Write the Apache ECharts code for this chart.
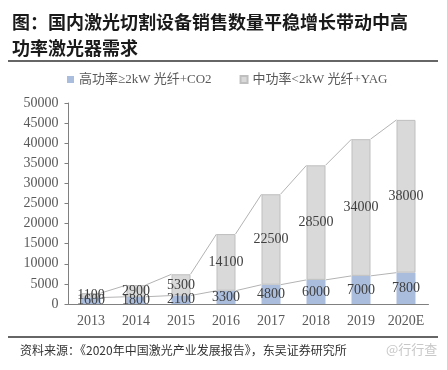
<!DOCTYPE html>
<html><head><meta charset="utf-8">
<script src="https://cdn.jsdelivr.net/npm/echarts@6/dist/echarts.min.js"></script>
<style>html,body{margin:0;padding:0;background:#fff}#c{width:447px;height:370px}</style>
</head><body><div id="c"></div>
<script>
const categories = ['2013','2014','2015','2016','2017','2018','2019','2020E'];
const highPower = [1600,1800,2100,3300,4800,6000,7000,7800];
const midPower = [1100,2900,5300,14100,22500,28500,34000,38000];
const seriesNames = ['高功率≥2kW 光纤+CO2','中功率<2kW 光纤+YAG'];
const yTicks = {min:0, max:50000, interval:5000};

const totals = highPower.map((v,i)=>v+midPower[i]);
const BAR_W = 19;
const chart = echarts.init(document.getElementById('c'));
const numFont = '"Liberation Serif", "Times New Roman", serif';
chart.setOption({
  animation:false,
  title:{text:'图：国内激光切割设备销售数量平稳增长带动中高\n功率激光器需求', left:7, top:4,
    textStyle:{fontFamily:'"Noto Sans CJK SC"', fontSize:18, fontWeight:'bold', color:'#1a1a1a', lineHeight:26}},
  legend:{top:68, left:62, itemWidth:7, itemHeight:7, itemGap:28,
    textStyle:{fontFamily:'"Liberation Serif","Noto Sans CJK SC"', fontSize:13, color:'#595959'},
    data:[{name:seriesNames[0], icon:'rect'},{name:seriesNames[1], icon:'rect'}]},
  grid:{left:68.5, right:18.5, top:103, bottom:66},
  xAxis:{type:'category', data:categories,
    axisLine:{lineStyle:{color:'#808080'}},
    axisTick:{inside:true, length:3, lineStyle:{color:'#808080'}},
    axisLabel:{interval:0, fontFamily:numFont, fontSize:14, color:'#595959', margin:10}},
  yAxis:{type:'value', min:yTicks.min, max:yTicks.max, interval:yTicks.interval,
    splitLine:{show:false},
    axisLine:{show:true, lineStyle:{color:'#808080'}},
    axisTick:{show:true, length:4, lineStyle:{color:'#808080'}},
    axisLabel:{formatter:v=>String(v), fontFamily:numFont, fontSize:14, color:'#595959', margin:10}},
  series:[
    {name:seriesNames[0], type:'bar', stack:'a', barWidth:BAR_W, data:highPower,
      itemStyle:{color:'#aabddd'},
      label:{show:true, position:'inside', fontFamily:numFont, fontSize:14, color:'#404040'}},
    {name:seriesNames[1], type:'bar', stack:'a', barWidth:BAR_W, data:midPower,
      itemStyle:{color:'#d9d9d9', borderColor:'#bfbfbf', borderWidth:1},
      label:{show:true, position:'inside', fontFamily:numFont, fontSize:14, color:'#404040'}},
    {type:'custom', silent:true, z:1,
      data: categories.map((c,i)=>[i, highPower[i], totals[i]]),
      renderItem:function(params, api){
        const i = params.dataIndex;
        if (i >= categories.length-1) return null;
        const children = [];
        [[highPower[i], highPower[i+1]], [totals[i], totals[i+1]]].forEach(pair=>{
          const a = api.coord([i, pair[0]]);
          const b = api.coord([i+1, pair[1]]);
          children.push({type:'line', shape:{x1:a[0]+BAR_W/2, y1:a[1], x2:b[0]-BAR_W/2, y2:b[1]},
            style:{stroke:'#b3b3b3', lineWidth:1}});
        });
        return {type:'group', children};
      }}
  ],
  graphic:[
    {type:'line', shape:{x1:8, y1:61, x2:438, y2:61}, style:{stroke:'#333', lineWidth:1.5}},
    {type:'line', shape:{x1:8, y1:337, x2:438, y2:337}, style:{stroke:'#333', lineWidth:1.5}},
    {type:'text', left:20, top:344, style:{text:'资料来源：《2020年中国激光产业发展报告》，东吴证券研究所',
      font:'12px "Noto Sans CJK SC"', fill:'#333'}},
    {type:'text', left:386, top:343, style:{text:'@行行查', font:'13px "Noto Sans CJK SC"', fill:'#c8c8c8'}}
  ]
});
</script></body></html>
